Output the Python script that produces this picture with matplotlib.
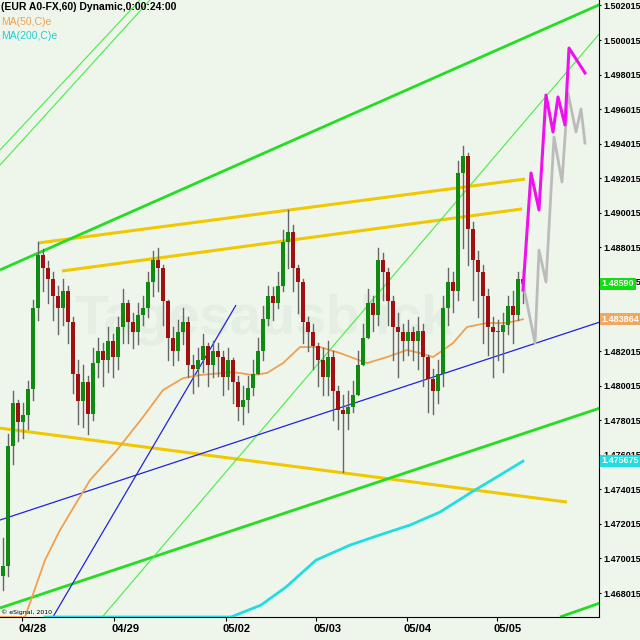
import numpy as np
import matplotlib
matplotlib.use("Agg")
import matplotlib.pyplot as plt

closes = [1.4696,1.4765,1.4790,1.4779,1.4783,1.4798,1.4845,1.4876,1.4868,1.4862,
          1.4852,1.4845,1.4855,1.4837,1.4807,1.4791,1.4802,1.4784,1.4813,1.4820,
          1.4815,1.4826,1.4817,1.4834,1.4848,1.4837,1.4831,1.4841,1.4845,1.4860,
          1.4873,1.4868,1.4849,1.4828,1.4820,1.4831,1.4837,1.4812,1.4810,1.4815,
          1.4823,1.4812,1.4820,1.4817,1.4805,1.4815,1.4802,1.4788,1.4792,1.4799,
          1.4807,1.4820,1.4839,1.4852,1.4848,1.4858,1.4883,1.4889,1.4868,1.4860,
          1.4837,1.4831,1.4823,1.4815,1.4805,1.4817,1.4797,1.4786,1.4784,1.4788,
          1.4795,1.4812,1.4828,1.4848,1.4841,1.4873,1.4866,1.4849,1.4834,1.4831,
          1.4826,1.4831,1.4826,1.4832,1.4817,1.4804,1.4797,1.4807,1.4845,1.4860,
          1.4855,1.4923,1.4933,1.4891,1.4873,1.4866,1.4852,1.4834,1.4831,1.4831,
          1.4835,1.4846,1.4841,1.4862,1.4859]
first_open = 1.4690
highs = [1.4712,1.4772,1.4797,1.4792,1.4790,1.4803,1.4850,1.4883,1.4879,1.4872,
         1.4866,1.4858,1.4862,1.4858,1.4840,1.4815,1.4812,1.4806,1.4822,1.4828,
         1.4825,1.4834,1.4830,1.4840,1.4856,1.4850,1.4842,1.4848,1.4852,1.4866,
         1.4878,1.4880,1.4870,1.4850,1.4834,1.4838,1.4845,1.4840,1.4818,1.4822,
         1.4830,1.4825,1.4826,1.4825,1.4820,1.4822,1.4816,1.4806,1.4800,1.4806,
         1.4815,1.4828,1.4846,1.4858,1.4857,1.4866,1.4890,1.4902,1.4893,1.4870,
         1.4862,1.4840,1.4836,1.4825,1.4822,1.4826,1.4820,1.4800,1.4795,1.4797,
         1.4803,1.4820,1.4836,1.4856,1.4852,1.4880,1.4877,1.4868,1.4852,1.4842,
         1.4836,1.4838,1.4834,1.4840,1.4836,1.4818,1.4810,1.4815,1.4852,1.4868,
         1.4866,1.4930,1.4939,1.4935,1.4895,1.4878,1.4870,1.4856,1.4840,1.4838,
         1.4842,1.4852,1.4855,1.4866,1.4867]
lows = [1.4682,1.4690,1.4755,1.4768,1.4770,1.4775,1.4792,1.4838,1.4855,1.4848,
        1.4838,1.4830,1.4835,1.4825,1.4796,1.4778,1.4776,1.4772,1.4780,1.4805,
        1.4800,1.4808,1.4805,1.4810,1.4825,1.4825,1.4822,1.4824,1.4835,1.4840,
        1.4852,1.4855,1.4835,1.4815,1.4812,1.4815,1.4824,1.4805,1.4796,1.4800,
        1.4808,1.4800,1.4805,1.4806,1.4795,1.4798,1.4790,1.4780,1.4778,1.4785,
        1.4795,1.4808,1.4815,1.4835,1.4838,1.4845,1.4855,1.4868,1.4855,1.4842,
        1.4825,1.4820,1.4810,1.4800,1.4795,1.4795,1.4780,1.4775,1.4750,1.4775,
        1.4785,1.4800,1.4818,1.4830,1.4832,1.4835,1.4850,1.4835,1.4815,1.4805,
        1.4815,1.4818,1.4815,1.4810,1.4800,1.4785,1.4784,1.4790,1.4800,1.4835,
        1.4843,1.4850,1.4880,1.4870,1.4850,1.4840,1.4825,1.4818,1.4805,1.4815,
        1.4808,1.4830,1.4825,1.4838,1.4848]

ma50_x = [-0.6,4.4,8.4,11.4,17.4,22.8,28,32,36,39.4,46,50,52.8,56,59.4,63.4,67.4,72.8,76.8,80.8,83.4,86,90,92.8,96.8,100.8,104]
ma50_p = [1.46663,1.46663,1.46992,1.47166,1.47455,1.47629,1.47820,1.47976,1.48045,1.48063,1.48080,1.48063,1.48075,1.48132,1.48225,1.48225,1.48190,1.48132,1.48167,1.48208,1.48190,1.48167,1.48248,1.48341,1.48364,1.48364,1.48386]
ma200_x = [8.4,45.6,51.6,56.6,62.6,69.4,75.4,81.4,87.4,93.4,99.4,104]
ma200_p = [1.46663,1.46663,1.46732,1.46836,1.46992,1.47079,1.47138,1.47195,1.47270,1.47380,1.47484,1.47565]

proj_x = [104,105.6,107.2,108.6,110,111,112.4,113.2,116.4]
proj_p = [1.48555,1.49232,1.49018,1.49683,1.49469,1.49672,1.49510,1.49955,1.49811]
alt_x = [104,106.4,107.2,108.6,110.2,111.8,113,114.6,115.6,116.4]
alt_p = [1.48595,1.48248,1.48786,1.48601,1.49440,1.49180,1.49695,1.49469,1.49602,1.49405]

trendlines = [
    (7, 1.48827, 104.4, 1.49197, '#f0c800', 2.2),
    (11.8, 1.48665, 103.8, 1.49024, '#f0c800', 2.2),
    (-0.6, 1.47756, 112.8, 1.47328, '#f0c800', 2.2),
    (-0.6, 1.48671, 121.4, 1.50233, '#22dd22', 2.0),
    (-0.6, 1.46715, 119.4, 1.47872, '#22dd22', 2.0),
    (111.4, 1.46663, 119.4, 1.46744, '#22dd22', 2.0),
    (19, 1.46634, 119.4, 1.50042, '#44ee44', 0.8),
    (-0.6, 1.49278, 29.4, 1.50233, '#44ee44', 0.8),
    (-0.6, 1.49365, 27.4, 1.50233, '#44ee44', 0.8),
    (9.4, 1.46634, 46.6, 1.48468, '#2222dd', 0.9),
    (-0.6, 1.47224, 119.4, 1.48370, '#2222dd', 0.9),
]

price_ticks = [1.468015 + 0.002 * k for k in range(18)]
date_labels = ['04/28', '04/29', '05/02', '05/03', '05/04', '05/05']
date_pos = [6.0, 24.4, 46.8, 64.8, 83.0, 101.0]
date_ticks = [3.8, 22.2, 44.6, 62.6, 80.8, 98.8]

FONT = 'Liberation Sans'
bg = '#eef6ec'
fig = plt.figure(figsize=(6.4, 6.4), dpi=100, facecolor=bg)
ax = fig.add_axes([0, 23/640, 599/640, 617/640], facecolor=bg)
ax.set_xlim(-0.6, 119.2)
ax.set_ylim(1.46663, 1.50233)

ax.text(52, 1.4838, 'Tagesausblick', fontsize=40, color='#e4eee2', ha='center', va='center',
        fontweight='bold', zorder=0, family=FONT)

for (x0, p0, x1, p1, c, w) in trendlines:
    ax.plot([x0, x1], [p0, p1], color=c, lw=w, zorder=2, solid_capstyle='butt')

ax.plot(ma200_x, ma200_p, color='#22dddd', lw=2.0, zorder=3)
ax.plot(ma50_x, ma50_p, color='#f0a050', lw=1.3, zorder=3)

opens = [first_open] + closes[:-1]
for i, (o, c, h, l) in enumerate(zip(opens, closes, highs, lows)):
    ax.plot([i, i], [min(l, o, c), max(h, o, c)], color='#666666', lw=1.0, zorder=4)
    col = '#108a10' if c >= o else '#a01010'
    b = max(abs(c - o), 0.00006)
    ax.add_patch(plt.Rectangle((i - 0.32, min(o, c)), 0.64, b, color=col, zorder=5, lw=0))

ax.plot(alt_x, alt_p, color='#bbbbbb', lw=2.0, zorder=6)
ax.plot(proj_x, proj_p, color='#ee11ee', lw=2.2, zorder=7)

ax.yaxis.tick_right()
ax.set_yticks(price_ticks)
ax.set_yticklabels([f'{p:.6f}' for p in price_ticks], fontsize=6.5, fontweight='bold', family=FONT)
ax.tick_params(axis='y', length=1.5, pad=1.5)
ax.set_xticks(date_ticks)
ax.set_xticklabels([])
ax.tick_params(axis='x', length=3)
for lab, xp in zip(date_labels, date_pos):
    ax.text(xp, 1.46663 - 0.0004, lab, ha='center', va='top', fontsize=8, fontweight='bold', family=FONT)
for s in ['top', 'left']:
    ax.spines[s].set_visible(False)

def box(p, txt, fc):
    ax.text(119.75, p, txt, ha='left', va='center', fontsize=6.5, fontweight='bold', color='white',
            family=FONT, bbox=dict(boxstyle='square,pad=0.15', fc=fc, ec='none'), clip_on=False, zorder=10)
box(1.48590, '1.48590', '#11dd11')
box(1.483864, '1.483864', '#f0a860')
box(1.475675, '1.475675', '#22dddd')

fig.text(0.002, 0.997, '(EUR A0-FX,60) Dynamic,0:00:24:00', fontsize=7.5, fontweight='bold', va='top', family=FONT)
fig.text(0.002, 0.974, 'MA(50,C)e', fontsize=7.5, color='#f0a050', va='top', family=FONT)
fig.text(0.002, 0.952, 'MA(200,C)e', fontsize=7.5, color='#22cccc', va='top', family=FONT)
ax.text(-0.4, 1.46675, '© eSignal, 2010', fontsize=4.5, va='bottom')

fig.savefig('out.png', dpi=100, facecolor=bg)
